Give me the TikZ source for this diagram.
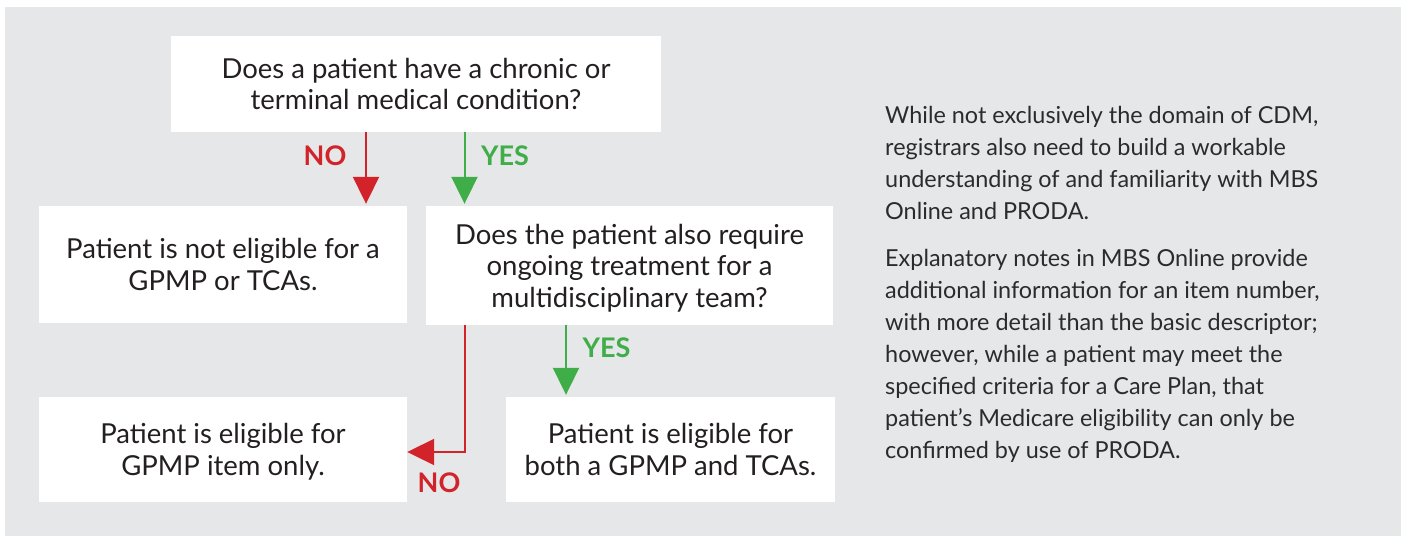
\documentclass[tikz,border=0pt]{standalone}
\usepackage{fontspec}
\setmainfont{Lato}
\usetikzlibrary{arrows.meta}
\definecolor{bggray}{HTML}{E6E7E8}
\definecolor{nored}{HTML}{D2232A}
\definecolor{yesgreen}{HTML}{3FAE49}
\definecolor{boxtxt}{HTML}{231F20}
\definecolor{sidetxt}{HTML}{2B2B2B}
\newcommand{\firstln}{\rule{0pt}{29.5pt}}
\begin{document}
\begin{tikzpicture}[x=1pt,y=-1pt,
  box/.style={fill=white, draw=none, inner sep=0pt, align=center,
    font=\fontsize{27.5}{31.5}\selectfont, text=boxtxt},
  lbl/.style={inner sep=0pt, font=\fontsize{27}{31.5}\selectfont\bfseries},
  side/.style={inner sep=0pt, align=left, anchor=north west,
    font=\fontsize{23.4}{32}\selectfont, text=sidetxt},
  arr/.style={line width=2pt, -{Triangle[length=27pt,width=26pt]}, shorten >=2pt},
  noarr/.style={arr, draw=nored},
  yesarr/.style={arr, draw=yesgreen}]
\useasboundingbox (0,0) rectangle (1405,536);
\fill[bggray] (5,7) rectangle (1401,536);

\node[box, minimum width=490pt, minimum height=96pt] (q1) at (416,84)
  {\firstln Does a patient have a chronic or\\terminal medical condition?\strut};
\node[box, minimum width=368pt, minimum height=117pt] (no1) at (223,264.5)
  {\firstln Patient is not eligible for a\\GPMP or TCAs.\strut};
\node[box, minimum width=407pt, minimum height=119pt] (q2) at (629.5,265.5)
  {\firstln Does the patient also require\\ongoing treatment for a\\multidisciplinary team?\strut};
\node[box, minimum width=368pt, minimum height=105pt] (gp) at (223,449.5)
  {\firstln Patient is eligible for\\GPMP item only.\strut};
\node[box, minimum width=329pt, minimum height=105pt] (both) at (670.5,449.5)
  {\firstln Patient is eligible for\\both a GPMP and TCAs.\strut};

\coordinate (xa) at (366,0);
\coordinate (xb) at (464.5,0);
\coordinate (xc) at (566,0);
\coordinate (nb) at (465,452);

\draw[noarr] (q1.south -| xa) -- (no1.north -| xa);
\draw[yesarr] (q1.south -| xb) -- (q2.north -| xb);
\draw[yesarr] (q2.south -| xc) -- (both.north -| xc);
\draw[noarr, shorten >=0pt] (q2.south -| nb) |- (gp.east |- nb);

\node[lbl, text=nored] (lno1) at (325,156) {NO};
\node[lbl, text=yesgreen] (lyes1) at (505,156) {YES};
\node[lbl, text=yesgreen] (lyes2) at (606.5,347.5) {YES};
\node[lbl, text=nored] (lno2) at (439,483) {NO};

\node[side] (p1) at (885,100.6)
  {\strut While not exclusively the domain of CDM,\\registrars also need to build a workable\\understanding of and familiarity with MBS\\Online and PRODA.};
\node[side] (p2) at (885,243.6)
  {\strut Explanatory notes in MBS Online provide\\additional information for an item number,\\with more detail than the basic descriptor;\\however, while a patient may meet the\\specified criteria for a Care Plan, that\\patient’s Medicare eligibility can only be\\confirmed by use of PRODA.};
\end{tikzpicture}
\end{document}
